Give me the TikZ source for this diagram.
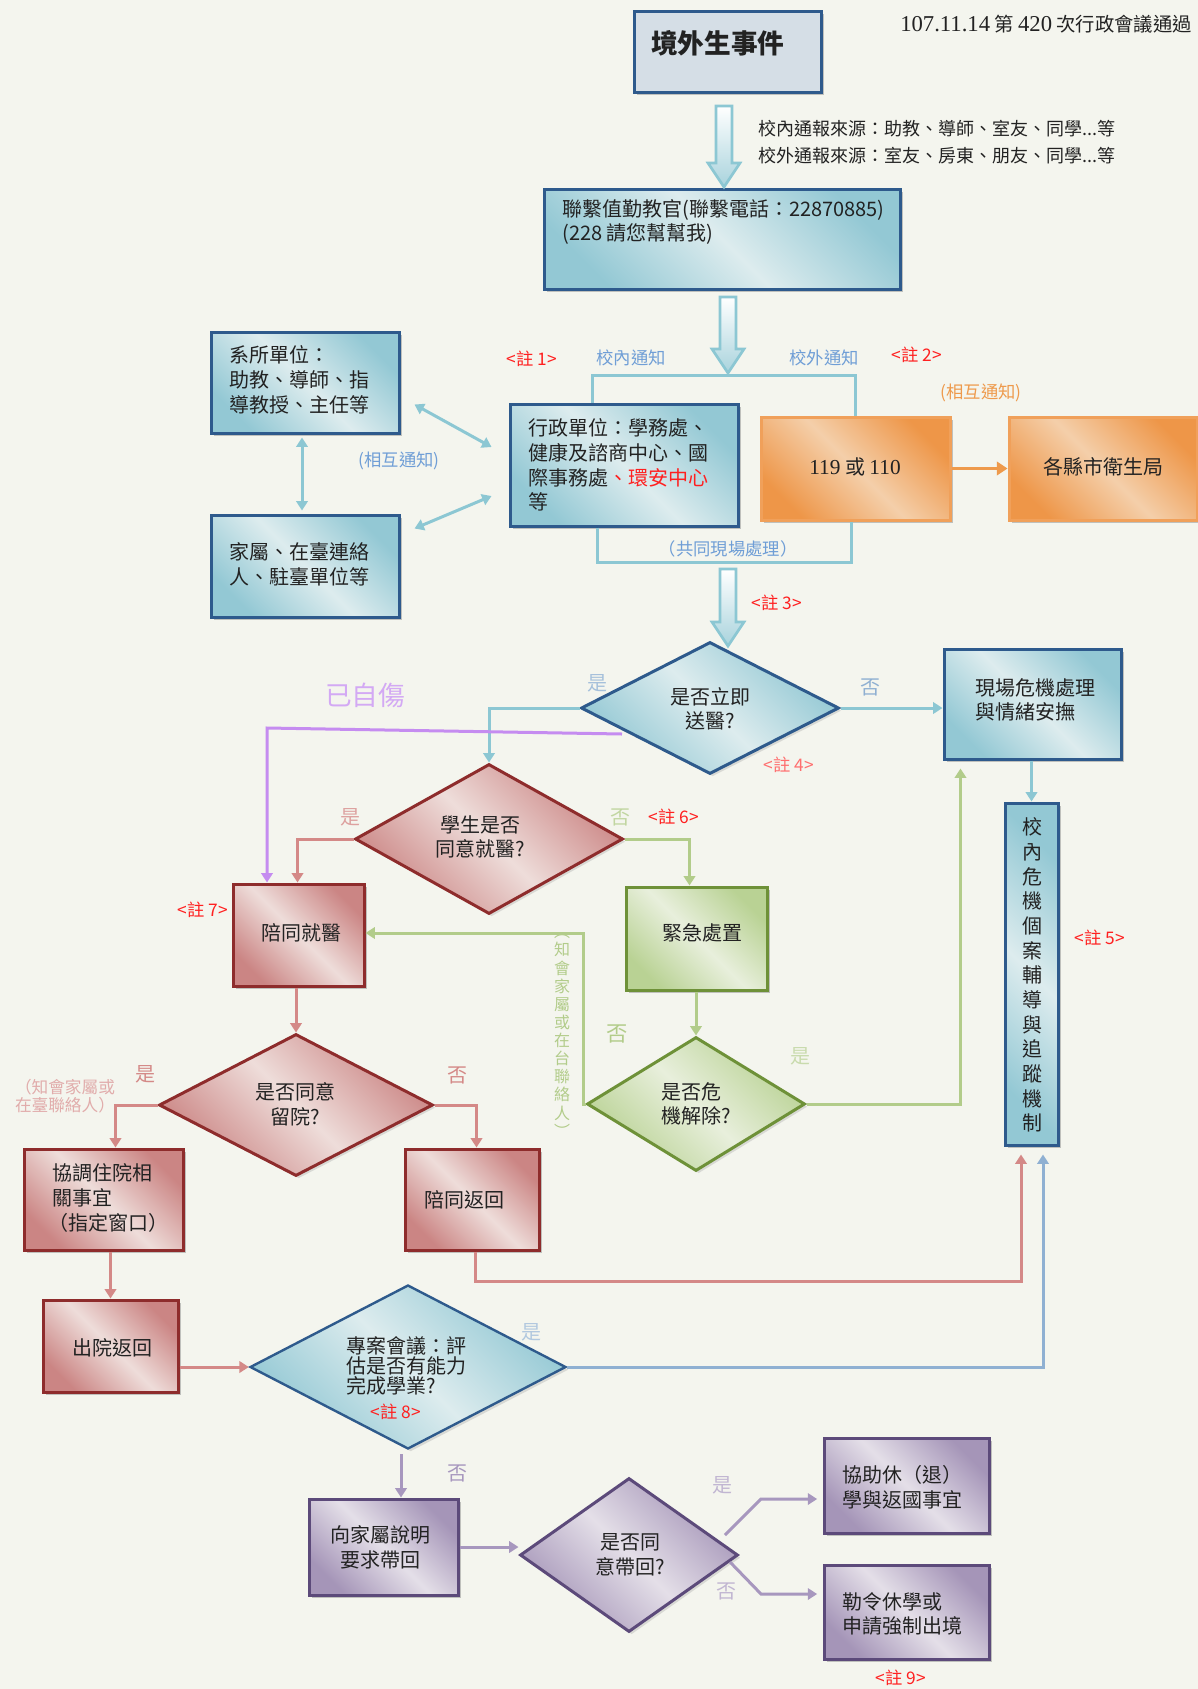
\documentclass[tikz,border=0pt]{standalone}
\usepackage{fontspec}
\setmainfont{Noto Sans CJK TC}
\newfontfamily\serifnum{Liberation Serif}
\usetikzlibrary{arrows.meta,shadows,fit,calc,shapes.geometric}

\definecolor{bg}{HTML}{F4F5EE}
\definecolor{navy}{HTML}{2E5A8C}
\definecolor{tealc}{HTML}{8CC7D3}
\definecolor{bdark}{HTML}{93C8D4}
\definecolor{blight}{HTML}{DDECEE}
\definecolor{rline}{HTML}{8E2C2C}
\definecolor{rdark}{HTML}{CB8584}
\definecolor{rlight}{HTML}{EEDDDA}
\definecolor{gline}{HTML}{6E9138}
\definecolor{gdark}{HTML}{B9D294}
\definecolor{glight}{HTML}{E8EFDC}
\definecolor{purline}{HTML}{5C4A7A}
\definecolor{pdark}{HTML}{A595B8}
\definecolor{plight}{HTML}{E4DFE8}
\definecolor{oline}{HTML}{F0A05A}
\definecolor{odark}{HTML}{EE9648}
\definecolor{olight}{HTML}{F4CFAA}
\definecolor{ttl}{HTML}{D5DEE6}
\definecolor{txtc}{HTML}{222222}
\definecolor{notered}{HTML}{FF2020}
\definecolor{lblue}{HTML}{6F9ED6}
\definecolor{redconn}{HTML}{D48987}
\definecolor{greenconn}{HTML}{B2CC8A}
\definecolor{purpconn}{HTML}{A797BE}
\definecolor{blueconn}{HTML}{8FB0D2}
\definecolor{harm}{HTML}{C58CF0}
\definecolor{orangec}{HTML}{EE9A4C}

\newcommand\bxfont{\fontsize{15}{18.5}\selectfont}
\newcommand\lbfont{\fontsize{13}{15}\selectfont}

\tikzset{
  boxbase/.style={rectangle, inner sep=0pt, line width=2.25pt,
    drop shadow={shadow xshift=2.5pt, shadow yshift=-2.5pt, fill=black!50, opacity=0.45}},
  titlebox/.style={boxbase, draw=navy, fill=ttl},
  bluebox/.style={boxbase, draw=navy, left color=bdark, right color=bdark, middle color=blight, shading angle=135},
  redbox/.style={boxbase, draw=rline, left color=rdark, right color=rdark, middle color=rlight, shading angle=135},
  greenbox/.style={boxbase, draw=gline, left color=gdark, right color=gdark, middle color=glight, shading angle=135},
  purplebox/.style={boxbase, draw=purline, left color=pdark, right color=pdark, middle color=plight, shading angle=135},
  orangebox/.style={boxbase, draw=oline, left color=odark, right color=odark, middle color=olight, shading angle=135},
  dbase/.style={diamond, inner sep=0pt, line width=2.25pt,
    drop shadow={shadow xshift=2pt, shadow yshift=-2pt, fill=black!40, opacity=0.3}},
  bdiamond/.style={dbase, draw=navy, left color=bdark, right color=bdark, middle color=blight, shading angle=135},
  rdiamond/.style={dbase, draw=rline, left color=rdark, right color=rdark, middle color=rlight, shading angle=135},
  gdiamond/.style={dbase, draw=gline, left color=gdark, right color=gdark, middle color=glight, shading angle=135},
  pdiamond/.style={dbase, draw=purline, left color=pdark, right color=pdark, middle color=plight, shading angle=135},
  txt/.style={inner sep=0pt, font=\bxfont, text=txtc},
  lbl/.style={inner sep=0pt, font=\lbfont},
  note/.style={lbl, text=notered},
  tline/.style={draw=tealc, line width=2.25pt},
  tconn/.style={tline, -{Triangle[length=7pt,width=8.5pt]}},
  tdbl/.style={tline, {Triangle[length=7pt,width=8.5pt]}-{Triangle[length=7pt,width=8.5pt]}},
  rconn/.style={draw=redconn, line width=2.25pt, -{Triangle[length=7pt,width=8.5pt]}},
  gconn/.style={draw=greenconn, line width=2.25pt, -{Triangle[length=7pt,width=8.5pt]}},
  pconn/.style={draw=purpconn, line width=2.25pt, -{Triangle[length=7pt,width=8.5pt]}},
  bconn/.style={draw=blueconn, line width=2.25pt, -{Triangle[length=7pt,width=8.5pt]}},
  hconn/.style={draw=harm, line width=2.25pt, -{Triangle[length=7pt,width=8.5pt]}},
  oconn/.style={draw=orangec, line width=2.6pt, -{Triangle[length=8pt,width=10pt]}},
  blockarr/.style={draw=tealc, line width=2pt, top color=white, bottom color=bdark!80},
}

\newcommand\downblock[2]{%
  \path[blockarr] ($(#1)+(-8,0)$) -- ($(#2)+(-8,-24)$) -- ($(#2)+(-16,-24)$) -- (#2)
     -- ($(#2)+(16,-24)$) -- ($(#2)+(8,-24)$) -- ($(#1)+(8,0)$) -- cycle;}

\begin{document}
\begin{tikzpicture}[x=0.75pt,y=-0.75pt]
\useasboundingbox (0,0) rectangle (1198,1689);
\fill[bg] (0,0) rectangle (1198,1689);

% ---------- boxes ----------
\node[titlebox, fit={(634,11)(821,92)}] (title) {};
\node[txt, anchor=west, font=\fontsize{20}{24}\selectfont\bfseries] (titleT) at (651,43) {境外生事件};

\node[lbl, anchor=west, text=txtc, font=\fontsize{14.5}{16}\selectfont] (date) at (900,24)
  {{\serifnum\fontsize{17}{18}\selectfont 107.11.14} 第 {\serifnum\fontsize{17}{18}\selectfont 420} 次行政會議通過};

\node[lbl, anchor=west, text=txtc, font=\fontsize{13.5}{16}\selectfont] (src1) at (758,129) {校內通報來源：助教、導師、室友、同學...等};
\node[lbl, anchor=west, text=txtc, font=\fontsize{13.5}{16}\selectfont] (src2) at (758,156) {校外通報來源：室友、房東、朋友、同學...等};

\node[bluebox, fit={(544,189)(900,289)}] (contact) {};
\node[txt, anchor=west, align=left] (contactT) at (562,222) {聯繫值勤教官(聯繫電話：22870885)\\(228 請您幫幫我)};

\node[bluebox, fit={(211,332)(399,433)}] (dept) {};
\node[txt, anchor=west, align=left] (deptT) at (229,380) {系所單位：\\助教、導師、指\\導教授、主任等};

\node[bluebox, fit={(211,515)(399,617)}] (family) {};
\node[txt, anchor=west, align=left] (familyT) at (229,564) {家屬、在臺連絡\\人、駐臺單位等};

\node[bluebox, fit={(510,404)(738,526)}] (admin) {};
\node[txt, anchor=west, align=left] (adminT) at (528,465) {行政單位：學務處、\\健康及諮商中心、國\\際事務處{\color{notered}、環安中心}\\等};

\node[orangebox, fit={(761,417)(950,520)}] (police) {};
\node[txt] (policeT) at (855,467) {{\serifnum\fontsize{16}{18}\selectfont 119} 或 {\serifnum\fontsize{16}{18}\selectfont 110}};

\node[orangebox, fit={(1009,417)(1197,520)}] (health) {};
\node[txt] (healthT) at (1103,467) {各縣市衛生局};

\node[bluebox, fit={(944,649)(1121,759)}] (crisis) {};
\node[txt, anchor=west, align=left] (crisisT) at (975,700) {現場危機處理\\與情緒安撫};

\node[bluebox, fit={(1005,803)(1058,1145)}] (track) {};
\node[txt, align=center] (trackT) at (1032,975) {校\\內\\危\\機\\個\\案\\輔\\導\\與\\追\\蹤\\機\\制};

\node[redbox, fit={(233,884)(364,986)}] (accomp) {};
\node[txt] (accompT) at (301,933) {陪同就醫};

\node[greenbox, fit={(626,887)(767,990)}] (emerg) {};
\node[txt] (emergT) at (702,933) {緊急處置};

\node[redbox, fit={(24,1149)(183,1250)}] (hosp) {};
\node[txt, anchor=west, align=left] (hospT) at (48,1198) {\ 協調住院相\\\ 關事宜\\（指定窗口）};

\node[redbox, fit={(405,1149)(539,1250)}] (ret) {};
\node[txt] (retT) at (464,1200) {陪同返回};

\node[redbox, fit={(43,1300)(178,1392)}] (disch) {};
\node[txt] (dischT) at (112,1348) {出院返回};

\node[purplebox, fit={(309,1499)(458,1595)}] (explain) {};
\node[txt, align=center] (explainT) at (380,1547) {向家屬說明\\要求帶回};

\node[purplebox, fit={(824,1438)(989,1533)}] (help) {};
\node[txt, anchor=west, align=left] (helpT) at (842,1487) {協助休（退）\\學與返國事宜};

\node[purplebox, fit={(824,1565)(989,1659)}] (order) {};
\node[txt, anchor=west, align=left] (orderT) at (842,1614) {勒令休學或\\申請強制出境};

% ---------- diamonds ----------
\node[bdiamond, minimum width=193.5pt, minimum height=99pt] (d1) at (710,708) {};
\node[txt, align=center] (d1T) at (710,709) {是否立即\\送醫?};

\node[rdiamond, minimum width=201pt, minimum height=112.5pt] (d2) at (489,839) {};
\node[txt, align=center] (d2T) at (480,837) {學生是否\\同意就醫?};

\node[gdiamond, minimum width=163.5pt, minimum height=100.5pt] (d3) at (696,1104) {};
\node[txt, anchor=west, align=left] (d3T) at (661,1104) {是否危\\機解除?};

\node[rdiamond, minimum width=205.5pt, minimum height=106.5pt] (d4) at (296,1105) {};
\node[txt, align=center] (d4T) at (295,1104) {是否同意\\留院?};

\node[bdiamond, line width=1.8pt, minimum width=237pt, minimum height=123pt] (d5) at (408,1367) {};
\node[txt, anchor=west, align=left, font=\fontsize{15}{15}\selectfont] (d5T) at (346,1366) {專案會議：評\\估是否有能力\\完成學業?};
\node[note] (n8) at (396,1412) {<註 8>};

\node[pdiamond, minimum width=163.5pt, minimum height=115.5pt] (d6) at (629,1555) {};
\node[txt, align=center] (d6T) at (630,1555) {是否同\\意帶回?};

% ---------- block arrows ----------
\coordinate (a1s) at (724,106); \coordinate (a1e) at (724,187);
\coordinate (a2s) at (728,297); \coordinate (a2e) at (728,373);
\coordinate (a3s) at (728,569); \coordinate (a3e) at (728,646);
\downblock{a1s}{a1e}
\downblock{a2s}{a2e}
\downblock{a3s}{a3e}

% ---------- connectors ----------
\coordinate (brL) at (592,375); \coordinate (brR) at (855,375);
\draw[tline] (admin.north -| brL) -- (brL) -- (brR) -- (police.north -| brR);
\coordinate (bbL) at (597,562); \coordinate (bbR) at (851,562);
\draw[tline] (admin.south -| bbL) -- (bbL) -- (bbR) -- (police.south -| bbR);

\draw[tdbl] ($(dept.south east)+(14,-30)$) -- ($(admin.west)+(-17,-18)$);
\draw[tdbl] ($(family.north east)+(14,15)$) -- ($(admin.west)+(-17,31)$);
\draw[tdbl] ($(dept.south)+(-3,3)$) -- ($(family.north)+(-3,-3)$);

\draw[oconn] (police.east) -- (health.west |- police.east);

\draw[tconn] (d1.east) -- (d1.east -| crisis.west);
\draw[tconn] (crisis.south -| track.north) -- (track.north);
\draw[tconn] (d1.west) -| (d2.north);

\coordinate (shA) at (622,734); \coordinate (shB) at (267,728);
\draw[hconn] (shA) -- (shB) -- (accomp.north -| shB);

\draw[rconn] (d2.west) -| ($(accomp.north west)+(66,0)$);
\draw[rconn] (accomp.south -| d4.north) -- (d4.north);
\draw[rconn] (d4.west) -| ($(hosp.north west)+(93,0)$);
\draw[rconn] (d4.east) -| ($(ret.north west)+(73,0)$);
\draw[rconn] (hosp.south -| disch.north) -- (disch.north);
\coordinate (rtA) at (475,1281); \coordinate (rtB) at (1021,1281);
\draw[rconn, shorten >=6pt] (ret.south -| rtA) -- (rtA) -- (rtB) -- (track.south -| rtB);
\draw[rconn] (disch.east |- d5.west) -- (d5.west);

\draw[gconn] (d2.east) -| ($(emerg.north west)+(65,0)$);
\draw[gconn] (emerg.south -| d3.north) -- (d3.north);
\coordinate (gnA) at (583,933);
\draw[gconn] (d3.west) -| (gnA) -- (accomp.east |- gnA);
\draw[gconn, shorten >=6pt] (d3.east) -| ($(crisis.south west)+(18,0)$);

\draw[bconn, shorten >=6pt] (d5.east) -| ($(track.south)+(11.5,0)$);

\coordinate (pd) at (401,1454);
\draw[pconn] (pd) -- (pd |- explain.north);
\draw[pconn] (explain.east) -- (explain.east -| d6.west);
\coordinate (yA) at (725,1535); \coordinate (yB) at (761,1499);
\draw[pconn, shorten >=4pt] (yA) -- (yB) -- (yB -| help.west);
\coordinate (nA) at (730,1562); \coordinate (nB) at (761,1594);
\draw[pconn, shorten >=4pt] (nA) -- (nB) -- (nB -| order.west);

% ---------- labels ----------
\node[note] (n1) at (532,359) {<註 1>};
\node[lbl, text=lblue] (inT) at (631,358) {校內通知};
\node[lbl, text=lblue] (outT) at (824,358) {校外通知};
\node[note] (n2) at (917,355) {<註 2>};
\node[lbl, text=orangec] (mutualO) at (981,393) {(相互通知)};
\node[lbl, text=lblue] (mutualB) at (399,461) {(相互通知)};
\node[lbl, text=lblue, font=\fontsize{13}{15}\selectfont] (joint) at (728,549) {（共同現場處理）};
\node[note] (n3) at (777,603) {<註 3>};
\node[lbl, text=harm!75, font=\fontsize{20}{22}\selectfont] (selfharm) at (365,695) {已自傷};
\node[lbl, text=blueconn!80, font=\fontsize{15}{16}\selectfont] (y1) at (597,683) {是};
\node[lbl, text=blueconn, font=\fontsize{15}{16}\selectfont] (no1) at (870,687) {否};
\node[note, text=notered!65] (n4) at (789,765) {<註 4>};
\node[lbl, text=redconn!80, font=\fontsize{15}{16}\selectfont] (y2) at (350,817) {是};
\node[lbl, text=greenconn!80, font=\fontsize{15}{16}\selectfont] (no2) at (620,817) {否};
\node[note] (n6) at (674,817) {<註 6>};
\node[note] (n7) at (203,910) {<註 7>};
\node[note] (n5) at (1100,938) {<註 5>};
\node[lbl, text=greenconn, align=center, font=\fontsize{12}{13.6}\selectfont] (informV) at (562,1036)
  {︵\\知\\會\\家\\屬\\或\\在\\台\\聯\\絡\\人\\︶};
\node[lbl, text=greenconn, font=\fontsize{16}{18}\selectfont] (no3) at (617,1034) {否};
\node[lbl, text=greenconn!70, font=\fontsize{15}{16}\selectfont] (y3) at (800,1056) {是};
\node[lbl, text=redconn, font=\fontsize{15}{16}\selectfont] (y4) at (145,1074) {是};
\node[lbl, text=redconn, font=\fontsize{15}{16}\selectfont] (no4) at (457,1075) {否};
\node[lbl, text=redconn!70, align=center, font=\fontsize{12.5}{14}\selectfont] (informH) at (65,1096) {（知會家屬或\\在臺聯絡人）};
\node[lbl, text=blueconn!70, font=\fontsize{15}{16}\selectfont] (y5) at (531,1332) {是};
\node[lbl, text=purpconn, font=\fontsize{15}{16}\selectfont] (no5) at (457,1473) {否};
\node[lbl, text=purpconn!70, font=\fontsize{15}{16}\selectfont] (y6) at (722,1485) {是};
\node[lbl, text=purpconn!70, font=\fontsize{15}{16}\selectfont] (no6) at (726,1591) {否};
\node[note] (n9) at (901,1678) {<註 9>};
\end{tikzpicture}
\end{document}
